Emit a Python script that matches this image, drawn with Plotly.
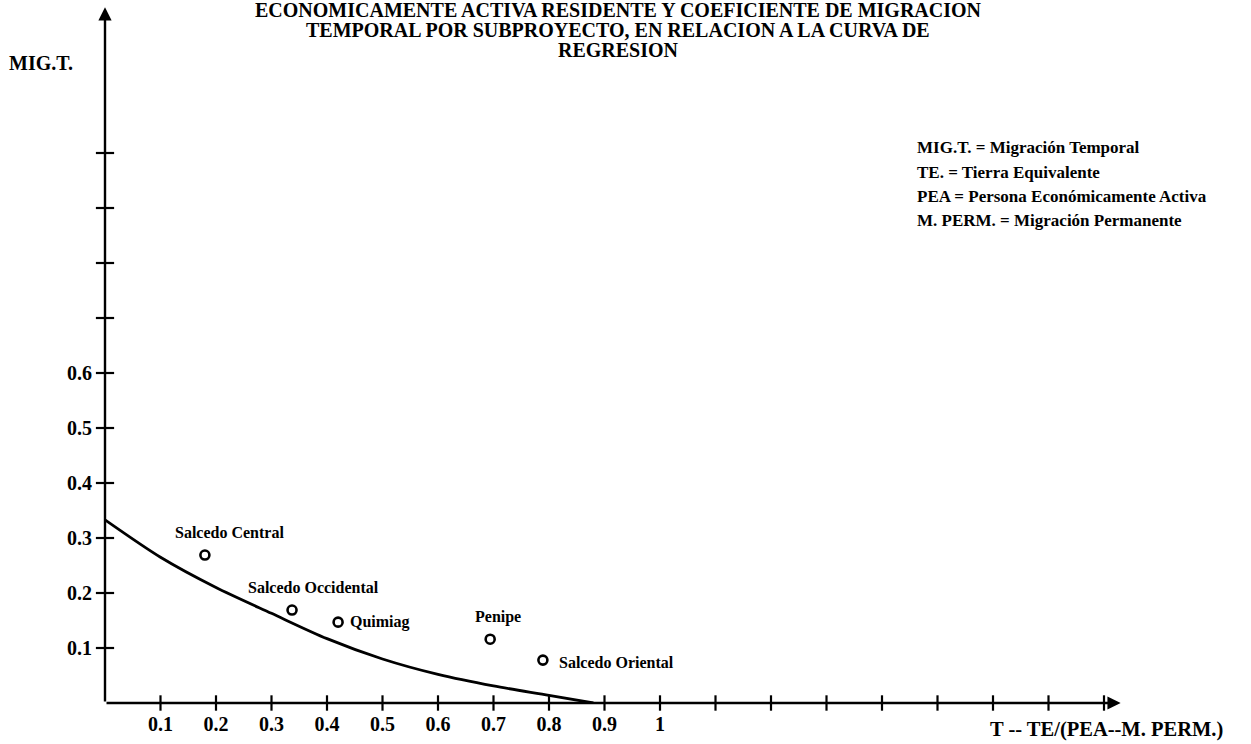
import plotly.graph_objects as go

# ---- data ----
subprojects = ["Salcedo Central", "Salcedo Occidental", "Quimiag", "Penipe", "Salcedo Oriental"]
te_x = [0.18, 0.337, 0.42, 0.694, 0.789]
migt_y = [0.269, 0.169, 0.147, 0.116, 0.078]

curve_x = [0.0, 0.1, 0.2, 0.3, 0.4, 0.5, 0.6, 0.7, 0.8, 0.88]
curve_y = [0.333, 0.265, 0.210, 0.163, 0.117, 0.080, 0.052, 0.031, 0.014, 0.0]

x_tick_marks = [0.1, 0.2, 0.3, 0.4, 0.5, 0.6, 0.7, 0.8, 0.9, 1.0, 1.1, 1.2, 1.3, 1.4, 1.5, 1.6, 1.7, 1.8]
x_label_vals = [0.1, 0.2, 0.3, 0.4, 0.5, 0.6, 0.7, 0.8, 0.9, 1.0]
x_label_text = ["0.1", "0.2", "0.3", "0.4", "0.5", "0.6", "0.7", "0.8", "0.9", "1"]
y_tick_marks = [0.1, 0.2, 0.3, 0.4, 0.5, 0.6, 0.7, 0.8, 0.9, 1.0]
y_label_vals = [0.1, 0.2, 0.3, 0.4, 0.5, 0.6]
y_label_text = ["0.1", "0.2", "0.3", "0.4", "0.5", "0.6"]
x_axis_end = 1.83
y_axis_end = 1.265

title_lines = [
    "ECONOMICAMENTE ACTIVA RESIDENTE Y COEFICIENTE DE MIGRACION",
    "TEMPORAL POR SUBPROYECTO, EN RELACION A LA CURVA DE",
    "REGRESION",
]
legend_lines = [
    "MIG.T. = Migración Temporal",
    "TE. = Tierra Equivalente",
    "PEA = Persona Económicamente Activa",
    "M. PERM. = Migración Permanente",
]

W, H = 1251, 744
ML, MB, MT, MR = 105, 41, 0, 0
PW, PH = W - ML - MR, H - MB - MT
XPX, YPX = 555.0, 550.0  # pixels per unit

SERIF = "Liberation Serif"


def py(pix):  # pixel row -> paper y
    return 1 - (pix - MT) / PH


def px(pix):  # pixel col -> paper x
    return (pix - ML) / PW


fig = go.Figure()

# regression curve
fig.add_trace(go.Scatter(x=curve_x, y=curve_y, mode="lines",
                         line=dict(color="black", width=2.8, shape="spline", smoothing=0.8),
                         hoverinfo="skip", showlegend=False))

# tick crosses
fig.add_trace(go.Scatter(x=x_tick_marks, y=[0] * len(x_tick_marks), mode="markers",
                         marker=dict(symbol="line-ns", size=11, line=dict(color="black", width=2.2)),
                         hoverinfo="skip", showlegend=False, cliponaxis=False))
fig.add_trace(go.Scatter(x=[0] * len(y_tick_marks), y=y_tick_marks, mode="markers",
                         marker=dict(symbol="line-ew", size=13, line=dict(color="black", width=2.2)),
                         hoverinfo="skip", showlegend=False, cliponaxis=False))

# sub-project points
fig.add_trace(go.Scatter(x=te_x, y=migt_y, mode="markers",
                         marker=dict(symbol="circle-open", size=9, color="black",
                                     line=dict(color="black", width=2.6)),
                         text=subprojects, showlegend=False))

# axes with arrows
for (xe, ye) in [(x_axis_end, 0), (0, y_axis_end)]:
    fig.add_annotation(x=xe, y=ye, ax=0, ay=0, xref="x", yref="y", axref="x", ayref="y",
                       text="", showarrow=True, arrowhead=2, arrowsize=1.1,
                       arrowwidth=2.4, arrowcolor="black")

# point labels (placement offsets in pixels)
label_style = {
    "Salcedo Central": dict(xanchor="center", xshift=25, yshift=23),
    "Salcedo Occidental": dict(xanchor="center", xshift=21, yshift=23),
    "Quimiag": dict(xanchor="left", xshift=10, yshift=0),
    "Penipe": dict(xanchor="center", xshift=8, yshift=22),
    "Salcedo Oriental": dict(xanchor="left", xshift=14, yshift=-2),
}
for name, xv, yv in zip(subprojects, te_x, migt_y):
    st = label_style[name]
    fig.add_annotation(x=xv, y=yv, xref="x", yref="y", text=name, showarrow=False,
                       xanchor=st["xanchor"], yanchor="middle",
                       xshift=st["xshift"], yshift=st["yshift"],
                       font=dict(family=SERIF, size=16, color="black", weight="bold"))

# title
for line, yc in zip(title_lines, [10, 30, 50]):
    fig.add_annotation(x=px(618), y=py(yc), xref="paper", yref="paper", text=line,
                       showarrow=False, xanchor="center", yanchor="middle",
                       font=dict(family=SERIF, size=20, color="black", weight="bold"))

# y axis name
fig.add_annotation(x=px(7), y=py(63), xref="paper", yref="paper", text="MIG.T.",
                   showarrow=False, xanchor="left", yanchor="middle",
                   font=dict(family=SERIF, size=20, color="black", weight="bold"))

# x axis name
fig.add_annotation(x=px(988), y=py(729), xref="paper", yref="paper",
                   text="T -- TE/(PEA--M. PERM.)", showarrow=False,
                   xanchor="left", yanchor="middle",
                   font=dict(family=SERIF, size=20.5, color="black", weight="bold"))

# legend of abbreviations
for line, yc in zip(legend_lines, [147, 172, 196, 221]):
    fig.add_annotation(x=px(915), y=py(yc), xref="paper", yref="paper", text=line,
                       showarrow=False, xanchor="left", yanchor="middle",
                       font=dict(family=SERIF, size=17, color="black", weight="bold"))

fig.update_layout(
    width=W, height=H,
    margin=dict(l=ML, r=MR, t=MT, b=MB, pad=0),
    paper_bgcolor="white", plot_bgcolor="white",
    showlegend=False,
    xaxis=dict(range=[0, PW / XPX], showgrid=False, zeroline=False, showline=False,
               automargin=False,
               tickvals=x_label_vals, ticktext=x_label_text, ticks="",
               ticklabelstandoff=7,
               tickfont=dict(family=SERIF, size=20, color="black", weight="bold")),
    yaxis=dict(range=[0, PH / YPX], showgrid=False, zeroline=False, showline=False,
               automargin=False,
               tickvals=y_label_vals, ticktext=y_label_text, ticks="",
               ticklabelstandoff=12,
               tickfont=dict(family=SERIF, size=20, color="black", weight="bold")),
)

fig.write_html("out.html", config={"displayModeBar": False},
               post_script="document.body.style.margin='0px';")
